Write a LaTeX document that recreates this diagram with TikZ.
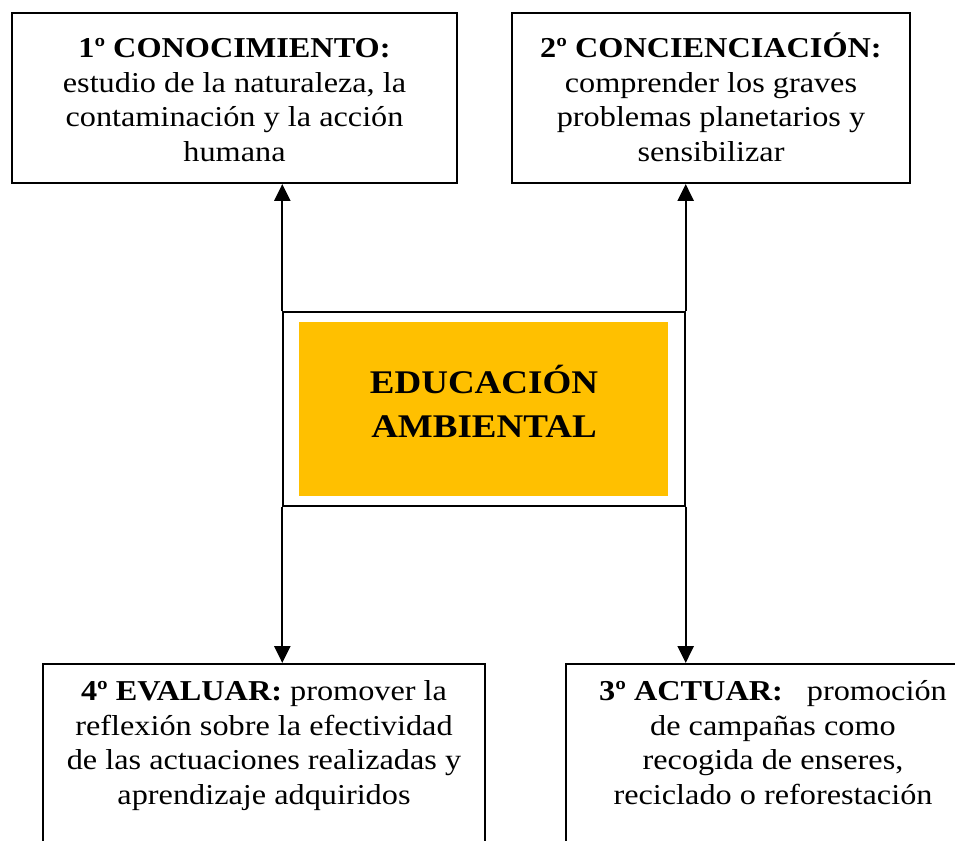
\documentclass[tikz,border=0pt]{standalone}
\usepackage{fontspec}
\setmainfont{Liberation Serif}[FakeStretch=1.12]
\usepackage{tikz}
\usetikzlibrary{arrows.meta,positioning,calc}
\definecolor{ea-orange}{HTML}{FFC000}
\tikzset{
  stagebox/.style={draw,line width=1.5pt,inner sep=0pt},
  stagetext/.style={align=center,inner sep=0pt,anchor=base,font=\fontsize{20.5pt}{24.5pt}\selectfont},
  flow/.style={-{Triangle[length=0.42cm,width=0.4cm]},line width=1.5pt}
}

\begin{document}
\begin{tikzpicture}
  \useasboundingbox (0,0) rectangle (23.875,21);
  % the four stages
  \node[stagebox,minimum width=11.125cm,minimum height=4.25cm] (know) at (5.8625,18.55){};
  \node[stagebox,minimum width=9.95cm,minimum height=4.25cm] (aware) at (17.775,18.55){};
  \node[stagebox,minimum width=11.05cm,minimum height=5.4cm] (judge) at (6.6,1.7){};
  \node[stagebox,minimum width=10.35cm,minimum height=5.4cm] (act) at (19.325,1.7){};
  \node[stagetext] (knowtext) at (5.8625,16.97){\textbf{1º CONOCIMIENTO:}\\estudio de la naturaleza, la\\contaminación y la acción\\humana};
  \node[stagetext] (awaretext) at (17.775,16.97){\textbf{2º CONCIENCIACIÓN:}\\comprender los graves\\problemas planetarios y\\sensibilizar};
  \node[stagetext] (judgetext) at (6.6,0.9){\textbf{4º EVALUAR:} promover la\\reflexión sobre la efectividad\\de las actuaciones realizadas y\\aprendizaje adquiridos};
  \node[stagetext] (acttext) at (19.325,0.9){\textbf{3º ACTUAR:}\hspace{0.6cm}promoción\\de campañas como\\recogida de enseres,\\reciclado o reforestación};
  % centre
  \node[draw,line width=1pt,minimum width=10.05cm,minimum height=4.85cm] (hub) at (12.1,10.775){};
  \node[fill=ea-orange,minimum width=9.225cm,minimum height=4.35cm] (hubfill) at (12.0875,10.775){};
  \node[stagetext,font=\bfseries\fontsize{23.5pt}{30.6pt}\selectfont] (hubtext) at (12.1,10.075){EDUCACIÓN\\AMBIENTAL};
  % arrows
  \draw[flow] (hub.north west) -- (hub.north west |- know.south);
  \draw[flow] (hub.north east) -- (hub.north east |- aware.south);
  \draw[flow] (hub.south west) -- (hub.south west |- judge.north);
  \draw[flow] (hub.south east) -- (hub.south east |- act.north);
\end{tikzpicture}
\end{document}
